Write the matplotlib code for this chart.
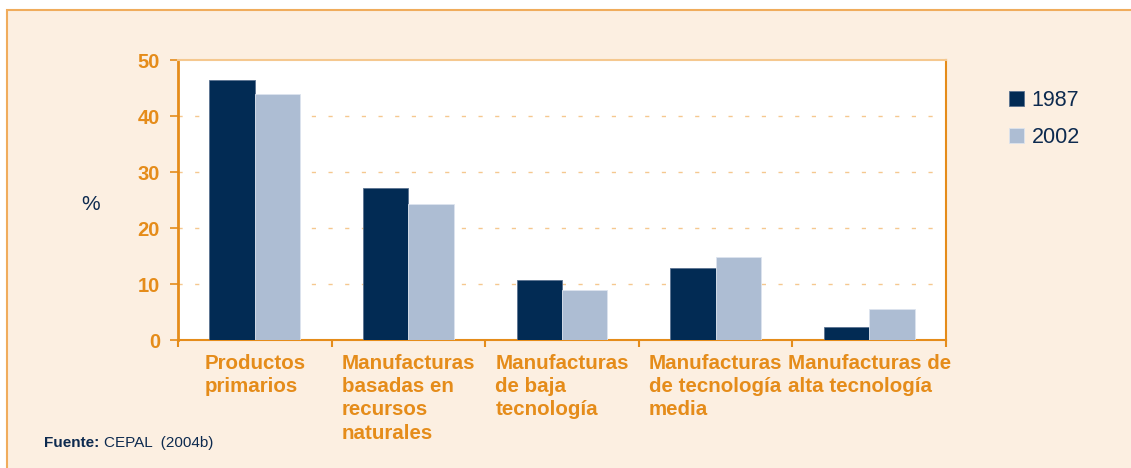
import numpy as np
import matplotlib.pyplot as plt
from matplotlib.patches import Rectangle
from matplotlib.transforms import blended_transform_factory

# Datos
categorias = ["Productos\nprimarios",
              "Manufacturas\nbasadas en\nrecursos\nnaturales",
              "Manufacturas\nde baja\ntecnología",
              "Manufacturas\nde tecnología\nmedia",
              "Manufacturas de\nalta tecnología"]
valores_1987 = [46.4, 27.1, 10.7, 12.9, 2.4]
valores_2002 = [43.9, 24.3, 9.0, 14.9, 5.5]
series = ["1987", "2002"]
yticks = [0, 10, 20, 30, 40, 50]

# Colores
NARANJA = "#e58c1a"
NARANJA_CLARO = "#f5c88f"
FONDO = "#fcefe1"
AZUL = "#022b54"
AZUL_CLARO = "#adbdd3"
TEXTO = "#0d2a4f"

plt.rcParams['font.family'] = ['Liberation Sans', 'DejaVu Sans']

W, H = 1131, 468
fig = plt.figure(figsize=(W / 100, H / 100), dpi=100)
fig.patch.set_facecolor("white")

# Marco exterior
fig.patches.append(Rectangle((7 / W, -0.01), 1.01, 1 - 10 / H + 0.01,
                             transform=fig.transFigure, facecolor=FONDO,
                             edgecolor="#f0ac5c", linewidth=1.5, zorder=-5))

ax = fig.add_axes([178 / W, (H - 340) / H, 768 / W, 280 / H])
ax.set_facecolor("white")

x = np.arange(len(categorias))
ancho = 0.295
ax.bar(x - ancho / 2, valores_1987, ancho, color=AZUL, edgecolor="#5a7290",
       linewidth=0.6, label=series[0], zorder=3)
ax.bar(x + ancho / 2, valores_2002, ancho, color=AZUL_CLARO, edgecolor="#dde4ee",
       linewidth=0.6, label=series[1], zorder=3)

ax.set_xlim(-0.5, len(categorias) - 0.5)
ax.set_ylim(0, 50)

# Cuadrícula
for v in yticks[1:-1]:
    ax.axhline(v, color=NARANJA_CLARO, lw=1, dashes=(3, 9), zorder=1)

ax.set_yticks(yticks)
ax.set_yticklabels([str(v) for v in yticks], fontsize=14.5, fontweight="bold",
                   color=NARANJA)
ax.tick_params(axis="y", length=6, width=1.2, color=NARANJA, pad=7)

# Marcas x en los límites de los grupos
ax.set_xticks(np.arange(len(categorias) + 1) - 0.5)
ax.set_xticklabels([])
ax.tick_params(axis="x", length=5, width=1.5, color=NARANJA, direction="out")

trans = blended_transform_factory(ax.transData, fig.transFigure)
for i, cat in enumerate(categorias):
    ax.text(i, 1 - 354 / H, cat, transform=trans, ha="center", va="top",
            multialignment="left", fontsize=14.8, fontweight="bold",
            color=NARANJA, linespacing=1.28)

for lado in ["left", "bottom", "right"]:
    ax.spines[lado].set_color(NARANJA)
ax.spines["left"].set_linewidth(2)
ax.spines["bottom"].set_linewidth(1.5)
ax.spines["right"].set_linewidth(1.5)
ax.spines["top"].set_color(NARANJA_CLARO)
ax.spines["top"].set_linewidth(1.5)

fig.text(91 / W, 1 - 205 / H, "%", fontsize=15, color=TEXTO,
         ha="center", va="center")

leg = fig.legend(loc="upper left", bbox_to_anchor=(1009 / W, 1 - 90 / H),
                 frameon=False, fontsize=15.5, handlelength=0.7,
                 handleheight=0.7, handletextpad=0.35, labelspacing=0.75,
                 borderpad=0, borderaxespad=0)
for t in leg.get_texts():
    t.set_color(TEXTO)

fig.text(44 / W, 1 - 443 / H, "Fuente:", fontsize=11, fontweight="bold",
         color=TEXTO, va="center")
fig.text(104 / W, 1 - 443 / H, "CEPAL  (2004b)", fontsize=11,
         color=TEXTO, va="center")

fig.savefig("out.png", dpi=100)
